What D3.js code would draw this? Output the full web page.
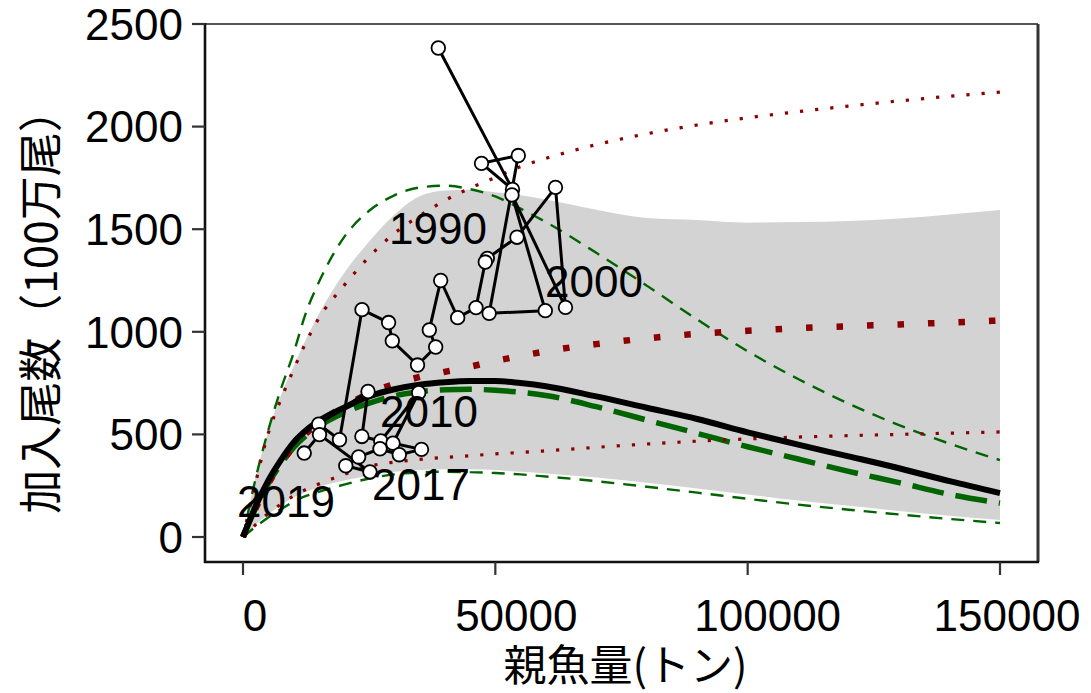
<!DOCTYPE html>
<html><head><meta charset="utf-8">
<script src="https://cdn.jsdelivr.net/npm/d3@7"></script>
<style>
html,body{margin:0;padding:0;background:#fff;}
svg text{font-family:"Liberation Sans",Arial,sans-serif;}
</style></head>
<body><svg id="c" width="1091" height="693"></svg>
<script>
// ---- data ----
const years = [1984,1985,1986,1987,1988,1989,1990,1991,1992,1993,1994,1995,1996,1997,1998,1999,2000,2001,2002,2003,2004,2005,2006,2007,2008,2009,2010,2011,2012,2013,2014,2015,2016,2017,2018,2019];
const ssb = [38700,53400,47260,54550,48780,59900,53300,63900,61920,54290,48410,48010,46170,42540,39170,36920,38180,34580,29580,28850,23580,19120,15000,24770,23560,27300,34810,29720,35370,30970,27150,22910,20370,25160,15160,12130];
const recruit = [2383,1694,1821,1859,1090,1103,1667,1119,1704,1461,1358,1340,1118,1069,1250,1009,926,838,956,1045,1108,474,550,709,490,468,703,457,427,401,430,390,347,317,499,409];

const sGrid      = [0,2500,5000,7500,10000,12500,15000,20000,25000,30000,35000,40000,45000,50000,55000,60000,70000,80000,90000,100000,110000,120000,130000,140000,150000];
const bandUpper  = [0,290,515,690,830,965,1085,1285,1440,1570,1660,1688,1692,1680,1665,1645,1595,1555,1545,1532,1535,1540,1552,1572,1594];
const bandLower  = [0,60,112,155,192,220,243,275,300,318,326,330,330,326,318,310,290,264,236,207,178,152,127,104,83];
const medianCurve= [0,150,275,375,460,520,565,630,685,720,742,754,760,760,750,735,685,630,575,510,450,393,335,272,214];
const greenThick = [0,140,260,355,435,495,540,605,652,688,708,718,720,715,705,690,635,570,505,440,380,320,265,208,165];
const greenUpper = [0,285,520,720,895,1095,1240,1460,1590,1665,1703,1712,1695,1660,1600,1535,1385,1225,1060,905,770,650,545,455,375];
const greenLower = [0,50,95,135,172,200,220,255,285,305,315,318,316,312,305,295,272,245,216,186,158,133,110,88,68];
const redUpper   = [0,265,505,670,815,950,1065,1225,1365,1480,1565,1640,1700,1752,1805,1845,1912,1965,2008,2043,2073,2100,2125,2148,2168];
const redMiddle  = [0,140,260,360,440,505,555,635,700,745,780,805,830,858,882,905,940,968,990,1005,1018,1027,1036,1045,1055];
const redLower   = [0,60,115,160,200,232,258,305,345,365,378,388,396,405,412,420,437,453,467,478,487,494,500,506,512];

const labelText = ["1990","2000","2010","2017","2019"];
const labelS    = [38640,69550,36860,35270,8520];
const labelR    = [1501,1243,614,258,171];

const xTicks = [0,50000,100000,150000];
const xTickShift = [12,21,20,7];
const yTicks = [0,500,1000,1500,2000,2500];
const xTitle = "親魚量(トン)";
const yTitle = "加入尾数（100万尾）";

// ---- layout ----
const svg = d3.select("#c");
const x = d3.scaleLinear().domain([0,150000]).range([243,1000]);
const y = d3.scaleLinear().domain([0,2500]).range([537,24]);
const box = {l:205, r:1038, t:24, b:562};

const idx = d3.range(sGrid.length);
const lineOf = arr => d3.line().x(i=>x(sGrid[i])).y(i=>y(arr[i])).curve(d3.curveMonotoneX)(idx);

// band
svg.append("path")
  .attr("d", d3.area().x(i=>x(sGrid[i])).y0(i=>y(bandLower[i])).y1(i=>y(bandUpper[i])).curve(d3.curveMonotoneX)(idx))
  .attr("fill","#d3d3d3");

// green curves
svg.append("path").attr("d",lineOf(greenUpper)).attr("fill","none").attr("stroke","#006400").attr("stroke-width",2.4).attr("stroke-dasharray","13,9");
svg.append("path").attr("d",lineOf(greenLower)).attr("fill","none").attr("stroke","#006400").attr("stroke-width",2.4).attr("stroke-dasharray","13,9");
svg.append("path").attr("d",lineOf(greenThick)).attr("fill","none").attr("stroke","#006400").attr("stroke-width",5.5).attr("stroke-dasharray","32,12");
// red curves
svg.append("path").attr("d",lineOf(redUpper)).attr("fill","none").attr("stroke","#8b0000").attr("stroke-width",3.2).attr("stroke-dasharray","3.2,12");
svg.append("path").attr("d",lineOf(redLower)).attr("fill","none").attr("stroke","#8b0000").attr("stroke-width",3.2).attr("stroke-dasharray","3.2,12");
svg.append("path").attr("d",lineOf(redMiddle)).attr("fill","none").attr("stroke","#8b0000").attr("stroke-width",6.5).attr("stroke-dasharray","6.5,24");
// median curve
svg.append("path").attr("d",lineOf(medianCurve)).attr("fill","none").attr("stroke","#000").attr("stroke-width",6).attr("stroke-linecap","butt");

// observed path
const pidx = d3.range(years.length);
svg.append("path")
  .attr("d", d3.line().x(i=>x(ssb[i])).y(i=>y(recruit[i]))(pidx))
  .attr("fill","none").attr("stroke","#000").attr("stroke-width",3).attr("stroke-linejoin","round");
svg.append("g").selectAll("circle").data(pidx).join("circle")
  .attr("cx",i=>x(ssb[i])).attr("cy",i=>y(recruit[i])).attr("r",6.8)
  .attr("fill","#fff").attr("stroke","#000").attr("stroke-width",1.8);

// year labels
svg.append("g").selectAll("text").data(labelText).join("text")
  .attr("x",(d,i)=>x(labelS[i])).attr("y",(d,i)=>y(labelR[i]))
  .attr("text-anchor","middle").attr("dominant-baseline","central")
  .attr("font-size",44).attr("fill","#000").text(d=>d);

// frame
svg.append("line").attr("x1",box.l).attr("x2",box.r).attr("y1",box.t).attr("y2",box.t).attr("stroke","#555").attr("stroke-width",1.8);
svg.append("line").attr("x1",box.r).attr("x2",box.r).attr("y1",box.t).attr("y2",box.b).attr("stroke","#333").attr("stroke-width",3);
svg.append("line").attr("x1",box.l).attr("x2",box.l).attr("y1",box.t-1).attr("y2",box.b+1).attr("stroke","#111").attr("stroke-width",2.6);
svg.append("line").attr("x1",box.l-1).attr("x2",box.r+1).attr("y1",box.b).attr("y2",box.b).attr("stroke","#111").attr("stroke-width",2.6);

// axes ticks
const gx = svg.append("g");
gx.selectAll("line").data(xTicks).join("line")
  .attr("x1",d=>x(d)).attr("x2",d=>x(d)).attr("y1",box.b).attr("y2",box.b+13)
  .attr("stroke","#333").attr("stroke-width",2.2);
gx.selectAll("text").data(xTicks).join("text")
  .attr("x",(d,i)=>x(d)+xTickShift[i]).attr("y",631)
  .attr("text-anchor","middle").attr("font-size",44).attr("fill","#000")
  .text(d=>String(d));
const gy = svg.append("g");
gy.selectAll("line").data(yTicks).join("line")
  .attr("x1",box.l-13).attr("x2",box.l).attr("y1",d=>y(d)).attr("y2",d=>y(d))
  .attr("stroke","#333").attr("stroke-width",2.2);
gy.selectAll("text").data(yTicks).join("text")
  .attr("x",183).attr("y",d=>y(d)).attr("dy","0.36em")
  .attr("text-anchor","end").attr("font-size",44).attr("fill","#000")
  .text(d=>String(d));

// titles
svg.append("text").attr("x",(box.l+box.r)/2+4).attr("y",681)
  .attr("text-anchor","middle").attr("font-size",43)
  .style("font-family","'Noto Sans CJK JP',sans-serif").attr("fill","#000").text(xTitle);
svg.append("text").attr("transform","translate(38,301) rotate(-90)")
  .attr("text-anchor","middle").attr("dominant-baseline","central").attr("font-size",44)
  .style("font-family","'Noto Sans CJK JP',sans-serif").attr("fill","#000").text(yTitle);
</script>
</body></html>
